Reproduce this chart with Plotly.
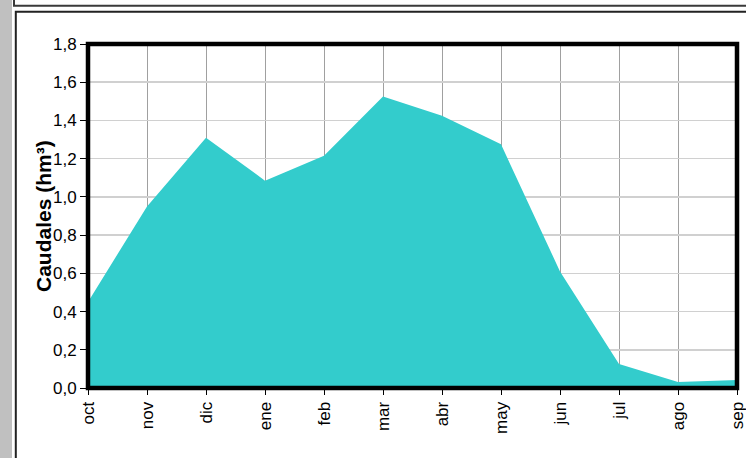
import plotly.graph_objects as go

months = ["oct", "nov", "dic", "ene", "feb", "mar", "abr", "may", "jun", "jul", "ago", "sep"]
caudales = [0.45, 0.95, 1.31, 1.085, 1.215, 1.525, 1.425, 1.275, 0.61, 0.125, 0.032, 0.042]
y_ticks = [0.0, 0.2, 0.4, 0.6, 0.8, 1.0, 1.2, 1.4, 1.6, 1.8]

W, H = 746, 458
ML, MR, MT, MB = 88, 9, 44, 70
PW, PH = W - ML - MR, H - MT - MB

def px(x):
    return (x - ML) / PW

def py(y):
    return (H - MB - y) / PH

FONT = "Liberation Sans, Arial, sans-serif"

fig = go.Figure()
fig.add_trace(go.Scatter(
    x=months, y=caudales, mode="lines", fill="tozeroy",
    line=dict(width=0, color="#33CCCC"), fillcolor="#33CCCC",
    hoverinfo="skip", showlegend=False,
))

shapes = [
    # left grey strip
    dict(type="rect", xref="paper", yref="paper", x0=px(-5), x1=px(12), y0=py(480), y1=py(-20),
         fillcolor="#c0c0c0", line=dict(width=0), layer="below"),
    # upper box
    dict(type="rect", xref="paper", yref="paper", x0=px(14), x1=px(780), y0=py(5.8), y1=py(-30),
         line=dict(color="#3a3a3a", width=2), layer="above"),
    # chart box
    dict(type="rect", xref="paper", yref="paper", x0=px(15.8), x1=px(780), y0=py(500), y1=py(11.8),
         line=dict(color="#222222", width=2), layer="above"),
    # thick plot frame
    dict(type="rect", xref="paper", yref="paper", x0=0, x1=1, y0=0, y1=1,
         line=dict(color="black", width=4.5), layer="above"),
]

fig.update_layout(
    width=W, height=H,
    margin=dict(l=ML, r=MR, t=MT, b=MB, pad=0, autoexpand=False),
    paper_bgcolor="white", plot_bgcolor="white",
    separators=",.",
    font=dict(family=FONT, size=17, color="black"),
    shapes=shapes,
    annotations=[dict(
        text="<b>Caudales (hm³)</b>", xref="paper", yref="paper",
        x=px(43), y=0.5, xanchor="center", yanchor="middle",
        textangle=-90, showarrow=False, font=dict(family=FONT, size=21, color="black"),
    )],
)

fig.update_xaxes(
    type="category", range=[0, len(months) - 1], automargin=False,
    showgrid=True, gridcolor="#a0a0a0", gridwidth=1,
    ticks="outside", ticklen=6, tickcolor="black", tickwidth=1,
    tickangle=-90, tickfont=dict(family=FONT, size=17),
    showline=False, zeroline=False,
)
fig.update_yaxes(
    range=[0, 1.8], tickvals=y_ticks, tickformat=".1f", automargin=False,
    showgrid=True, gridcolor="#d0d0d0", gridwidth=1.5,
    ticks="outside", ticklen=7, tickcolor="black", tickwidth=1,
    tickfont=dict(family=FONT, size=17),
    showline=False, zeroline=False,
)

fig.write_html(
    "out.html",
    config={"displayModeBar": False, "staticPlot": True},
    post_script="document.body.style.margin='0';document.body.style.overflow='hidden';",
)
